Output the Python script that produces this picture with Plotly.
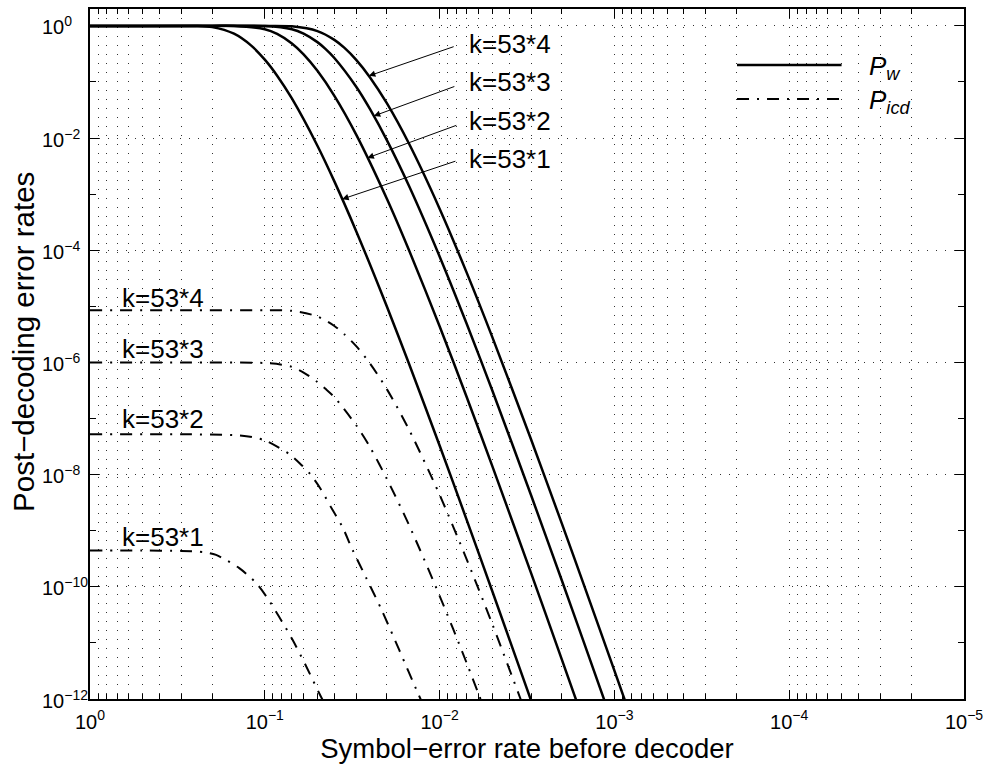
import numpy as np
import plotly.graph_objects as go

# ---------------- data ----------------
labels = ["k=53*1", "k=53*2", "k=53*3", "k=53*4"]

# P_w curves (solid)
p_w1 = [1, 0.5, 0.3, 0.25, 0.2, 0.15, 0.12, 0.1, 0.085, 0.07, 0.05, 0.04, 0.03, 0.02, 0.015, 0.01, 0.007, 0.005, 0.003, 0.0025]
Pw1 = [1.0, 1.0, 0.9991, 0.9952, 0.9510, 0.7252, 0.4488, 0.250, 0.1296, 0.0508, 7.31e-3, 1.69e-3, 2.19e-4, 9.82e-6, 9.66e-7, 3.30e-8, 1.565e-9, 8.43e-11, 9.48e-13, 1.89e-13]

p_w2 = [1, 0.5, 0.2, 0.15, 0.1, 0.085, 0.07, 0.06, 0.05, 0.04, 0.03, 0.02, 0.015, 0.01, 0.007, 0.005, 0.003, 0.002, 0.0015]
Pw2 = [1.0, 1.0, 1.0, 0.99655, 0.8710, 0.7182, 0.4851, 0.3105, 0.1579, 0.05666, 0.01153, 8.21e-4, 1.022e-4, 4.42e-6, 2.42e-7, 1.433e-8, 1.770e-10, 5.09e-12, 4.02e-13]

p_w3 = [1, 0.5, 0.2, 0.1, 0.07, 0.06, 0.05, 0.045, 0.04, 0.03, 0.025, 0.02, 0.015, 0.01, 0.007, 0.005, 0.003, 0.002, 0.0015, 0.001]
Pw3 = [1.0, 1.0, 1.0, 0.99298, 0.8699, 0.7283, 0.5135, 0.3892, 0.2680, 0.08244, 0.03282, 9.12e-3, 1.426e-3, 7.76e-5, 4.89e-6, 3.186e-7, 4.326e-9, 1.307e-10, 1.057e-11, 2.96e-13]

p_w4 = [1, 0.5, 0.1, 0.07, 0.05, 0.04, 0.035, 0.03, 0.025, 0.02, 0.015, 0.01, 0.007, 0.005, 0.003, 0.002, 0.0015, 0.001, 0.0007]
Pw4 = [1.0, 1.0, 1.0, 0.9808, 0.8084, 0.5630, 0.4046, 0.2480, 0.1207, 0.04142, 8.07e-3, 5.52e-4, 3.995e-5, 2.858e-6, 4.263e-8, 1.351e-9, 1.119e-10, 3.21e-12, 1.374e-13]

# P_icd curves (dash-dot)
p_i1 = [1, 0.5, 0.3, 0.22, 0.19, 0.14, 0.112, 0.098, 0.083, 0.0695, 0.058, 0.049, 0.0447]
Pi1 = [4.42e-10, 4.42e-10, 4.37e-10, 4.12e-10, 3.70e-10, 2.15e-10, 1.164e-10, 6.73e-11, 2.96e-11, 1.146e-11, 3.84e-12, 1.294e-12, 7.41e-13]

p_i2 = [1, 0.3, 0.14, 0.118, 0.1, 0.085, 0.072, 0.063, 0.055, 0.048, 0.042, 0.036, 0.0316, 0.0263, 0.0214, 0.017, 0.0132, 0.012]
Pi2 = [5.25e-8, 5.25e-8, 5.01e-8, 4.68e-8, 4.07e-8, 3.16e-8, 2.29e-8, 1.585e-8, 1.023e-8, 5.62e-9, 2.69e-9, 1.175e-9, 4.68e-10, 1.445e-10, 3.80e-11, 7.41e-12, 1.202e-12, 6.31e-13]

p_i3 = [1, 0.3, 0.1, 0.08, 0.07, 0.06, 0.05, 0.045, 0.04, 0.03, 0.025, 0.02, 0.015, 0.01, 0.007, 0.005]
Pi3 = [1.0e-6, 1.0e-6, 9.77e-7, 9.12e-7, 8.32e-7, 6.61e-7, 4.47e-7, 3.39e-7, 2.40e-7, 7.59e-8, 3.09e-8, 8.32e-9, 1.288e-9, 6.92e-11, 4.37e-12, 2.82e-13]

p_i4 = [1, 0.3, 0.1, 0.07, 0.05, 0.04, 0.035, 0.03, 0.025, 0.02, 0.015, 0.01, 0.007, 0.005, 0.003]
Pi4 = [8.51e-6, 8.51e-6, 8.51e-6, 8.32e-6, 6.61e-6, 4.47e-6, 3.16e-6, 1.95e-6, 9.55e-7, 3.31e-7, 6.46e-8, 4.37e-9, 3.09e-10, 2.19e-11, 3.16e-13]

x_ticks = [1, 1e-1, 1e-2, 1e-3, 1e-4, 1e-5]
x_ticktext = ["10<sup>0</sup>", "10<sup>−1</sup>", "10<sup>−2</sup>", "10<sup>−3</sup>", "10<sup>−4</sup>", "10<sup>−5</sup>"]
y_ticks = [1, 1e-2, 1e-4, 1e-6, 1e-8, 1e-10, 1e-12]
y_ticktext = ["10<sup>0</sup>", "10<sup>−2</sup>", "10<sup>−4</sup>", "10<sup>−6</sup>", "10<sup>−8</sup>", "10<sup>−10</sup>", "10<sup>−12</sup>"]

# ---------------- figure ----------------
FONT = "Liberation Sans, Arial, Helvetica, sans-serif"
DASHDOT = "12px,8px,2px,8px"

solid_sets = [(p_w1, Pw1), (p_w2, Pw2), (p_w3, Pw3), (p_w4, Pw4)]
icd_sets = [(p_i1, Pi1), (p_i2, Pi2), (p_i3, Pi3), (p_i4, Pi4)]

fig = go.Figure()
for p, P in solid_sets:
    fig.add_trace(go.Scatter(x=p, y=P, mode="lines", showlegend=False, hoverinfo="skip",
                             line=dict(color="black", width=2.5, shape="spline", smoothing=0.8)))
for p, P in icd_sets:
    fig.add_trace(go.Scatter(x=p, y=P, mode="lines", showlegend=False, hoverinfo="skip",
                             line=dict(color="black", width=2, dash=DASHDOT, shape="spline", smoothing=0.8)))

minor_x = [m * 10.0 ** (-d) for d in range(0, 5) for m in range(2, 10)]
minor_x = [v for v in minor_x if v < 1]
minor_x += [m * 1e-5 for m in range(2, 10)]
minor_y = [10.0 ** (-d) for d in range(1, 12, 2)]

GRID = dict(gridcolor="#333333", gridwidth=1, griddash="1px,8px")

fig.update_xaxes(type="log", range=[0, -5], tickvals=x_ticks, ticktext=x_ticktext,
                 ticks="inside", ticklen=9, tickwidth=1, tickcolor="black",
                 showline=True, linecolor="black", linewidth=1.5, mirror="ticks",
                 showgrid=True, zeroline=False, **GRID,
                 minor=dict(tickvals=minor_x, ticks="inside", ticklen=5, tickcolor="black",
                            showgrid=True, **GRID),
                 tickfont=dict(family=FONT, size=20, color="black"), ticklabelstandoff=4,
                 title=dict(text="Symbol−error rate before decoder",
                            font=dict(family=FONT, size=27.5, color="black"), standoff=4))
fig.update_yaxes(type="log", range=[-12, np.log10(2)], tickvals=y_ticks, ticktext=y_ticktext,
                 showticklabels=False,
                 ticks="inside", ticklen=9, tickwidth=1, tickcolor="black",
                 showline=True, linecolor="black", linewidth=1.5, mirror="ticks",
                 showgrid=True, zeroline=False, **GRID,
                 minor=dict(tickvals=minor_y, ticks="inside", ticklen=6, tickcolor="black",
                            showgrid=False))

# y axis title (placed as in the reference)
fig.add_annotation(x=-0.0763, y=0.518, xref="paper", yref="paper", text="Post−decoding error rates",
                   textangle=-90, showarrow=False, xanchor="center", yanchor="middle",
                   font=dict(family=FONT, size=29.5, color="black"))

# y tick labels, left aligned as in the reference
for v, t in zip(y_ticks, y_ticktext):
    fig.add_annotation(x=-0.0575, y=np.log10(v), xref="paper", yref="y", text=t,
                       showarrow=False, xanchor="left", yanchor="middle",
                       font=dict(family=FONT, size=20, color="black"))

# arrows pointing at the P_w curves
head_p = [0.0361, 0.0259, 0.0238, 0.0254]
tail_xy = [(-2.099, -2.403), (-2.104, -1.764), (-2.093, -1.071), (-2.089, -0.361)]
text_xy = [(-2.154, -2.368), (-2.154, -1.693), (-2.154, -0.995), (-2.154, -0.314)]
for lab, (p, P), hp, (tx, ty), (lx, ly) in zip(labels, solid_sets, head_p, tail_xy, text_xy):
    lp = np.log10(p)[::-1]
    lP = np.log10(P)[::-1]
    hy = float(np.interp(np.log10(hp), lp, lP))
    fig.add_annotation(x=np.log10(hp), y=hy, ax=tx, ay=ty, xref="x", yref="y", axref="x", ayref="y",
                       text="", showarrow=True, arrowhead=2, arrowsize=1.3, arrowwidth=1,
                       arrowcolor="black")
    fig.add_annotation(x=lx, y=ly, xref="x", yref="y", text=lab, showarrow=False,
                       xanchor="left", yanchor="middle",
                       font=dict(family=FONT, size=26, color="black"))

# labels over the P_icd plateaus
plateau_xy = [(-0.171, -9.106), (-0.171, -7.003), (-0.171, -5.760), (-0.171, -4.844)]
for lab, (lx, ly) in zip(labels, plateau_xy):
    fig.add_annotation(x=lx, y=ly, xref="x", yref="y", text=lab, showarrow=False,
                       xanchor="left", yanchor="middle",
                       font=dict(family=FONT, size=26, color="black"))

# legend (drawn by hand to match the long line samples)
fig.add_shape(type="line", xref="paper", yref="paper", x0=0.7403, x1=0.8599, y0=0.919, y1=0.919,
              line=dict(color="black", width=2.5))
fig.add_shape(type="line", xref="paper", yref="paper", x0=0.7403, x1=0.8599, y0=0.8694, y1=0.8694,
              line=dict(color="black", width=2, dash=DASHDOT))
fig.add_annotation(x=0.889, y=0.915, xref="paper", yref="paper", xanchor="left", yanchor="middle",
                   text="<i>P</i><sub><i>w</i></sub>", showarrow=False,
                   font=dict(family=FONT, size=26, color="black"))
fig.add_annotation(x=0.889, y=0.8654, xref="paper", yref="paper", xanchor="left", yanchor="middle",
                   text="<i>P</i><sub><i>icd</i></sub>", showarrow=False,
                   font=dict(family=FONT, size=26, color="black"))

fig.update_layout(width=990, height=769, margin=dict(l=90, r=22, t=7, b=70),
                  plot_bgcolor="white", paper_bgcolor="white",
                  font=dict(family=FONT, color="black"))

fig.write_html("out.html")
